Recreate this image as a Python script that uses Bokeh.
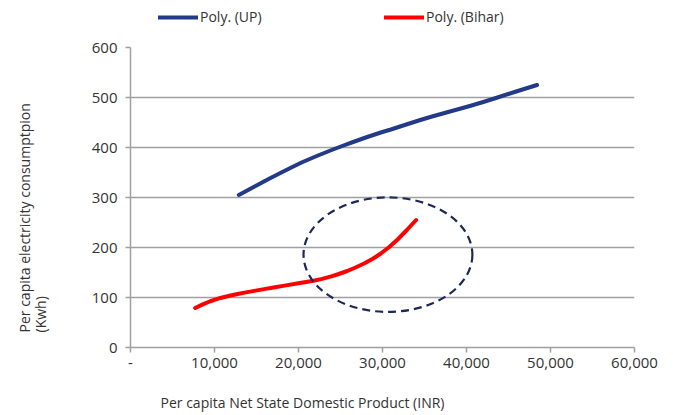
from math import pi

from bokeh.embed import file_html
from bokeh.layouts import column, row
from bokeh.models import FixedTicker, Label, Legend, LegendItem, Range1d
from bokeh.plotting import figure
from bokeh.resources import INLINE

# Polynomial trend of per-capita electricity use vs per-capita NSDP
up_nsdp = [12900, 14000, 15000, 16500, 17900, 19200, 20500, 22100, 23800,
           25200, 26500, 28100, 29800, 31000, 32000, 33200, 34500, 36000,
           37500, 39000, 40500, 42000, 43600, 46000, 48400]
up_kwh = [305, 315, 324, 337.5, 349.5, 360.5, 371, 382.5, 394,
          403, 411, 420.5, 430, 436, 441.5, 448, 455, 462.5,
          469.5, 476.5, 483.5, 491, 499.5, 512.5, 525]

bihar_nsdp = [7700, 8600, 9500, 10700, 11900, 12900, 13900, 14900, 15900,
              17200, 18500, 20000, 21800, 22800, 23800, 24800, 25800, 26800,
              27800, 28800, 29800, 30800, 31800, 32900, 34000]
bihar_kwh = [79, 86.2, 92.5, 99.1, 104.1, 107.6, 110.7, 113.7, 116.7,
             120.6, 124.3, 128.6, 133.5, 137.3, 141.7, 147, 153, 160,
             168, 177, 188, 201, 216, 235, 255]

# Highlighted zone around Bihar's recent acceleration
zone_x, zone_y = 30650, 185.7
zone_w, zone_h = 20100, 229

x_ticks = [0, 10000, 20000, 30000, 40000, 50000, 60000]
x_tick_labels = ["-", "10,000", "20,000", "30,000", "40,000", "50,000", "60,000"]
y_ticks = [0, 100, 200, 300, 400, 500, 600]

series_names = ["Poly. (UP)", "Poly. (Bihar)"]
series_colors = ["#233A88", "#FF0000"]

x_title = "Per capita Net State Domestic Product (INR)"
y_title = ["Per capita electricity consumptpion", "(Kwh)"]

FONT = "Open Sans"
TEXT = "#333333"
GRID = "#A0A0A0"


def blank(width, height, top=0, bottom=0):
    """A bare canvas (no axes); 1 data unit = 1 px inside its frame."""
    f = figure(width=width, height=height, output_backend="svg",
               toolbar_location=None, x_axis_type=None, y_axis_type=None,
               x_range=Range1d(0, width), y_range=Range1d(0, height - top - bottom),
               min_border=0, min_border_top=top, min_border_bottom=bottom)
    f.outline_line_color = None
    return f


# ---- main chart -----------------------------------------------------------
p = figure(width=613, height=350, output_backend="svg", toolbar_location=None,
           x_range=Range1d(0, 60000), y_range=Range1d(0, 600),
           min_border_left=70, min_border_right=39,
           min_border_top=17, min_border_bottom=33)
p.outline_line_color = None

p.xgrid.visible = False
p.ygrid.grid_line_color = GRID
p.ygrid.grid_line_width = 1.5
p.ygrid.ticker = FixedTicker(ticks=y_ticks)

p.xaxis.ticker = FixedTicker(ticks=x_ticks)
p.xaxis.major_label_overrides = {t: s for t, s in zip(x_ticks, x_tick_labels)}
p.yaxis.ticker = FixedTicker(ticks=y_ticks)
for ax in (p.xaxis, p.yaxis):
    ax.axis_line_color = GRID
    ax.axis_line_width = 1.5
    ax.major_tick_line_color = GRID
    ax.major_tick_line_width = 1.5
    ax.major_tick_out = 5
    ax.major_tick_in = 0
    ax.minor_tick_line_color = None
    ax.major_label_text_font = FONT
    ax.major_label_text_font_size = "15px"
    ax.major_label_text_color = TEXT
p.xaxis.major_label_standoff = 5
p.yaxis.major_label_standoff = 8

p.line(up_nsdp, up_kwh, line_color=series_colors[0], line_width=4,
       line_cap="round", line_join="round")
p.line(bihar_nsdp, bihar_kwh, line_color=series_colors[1], line_width=4,
       line_cap="round", line_join="round")

p.ellipse(x=[zone_x], y=[zone_y], width=[zone_w], height=[zone_h],
          fill_alpha=0, line_color="#1C2858", line_width=2.2, line_dash="8 5")

# ---- key strip across the top --------------------------------------------
# Series are re-plotted off-canvas here only so the key can borrow their style.
key = blank(673, 30)
for name, color, xs, ys, x0 in zip(series_names, series_colors,
                                   [up_nsdp, bihar_nsdp], [up_kwh, bihar_kwh],
                                   [158, 384]):
    r = key.line(xs, ys, line_color=color, line_width=4, line_cap="round")
    key.add_layout(Legend(items=[LegendItem(label=name, renderers=[r])],
                          location=(x0, 4), orientation="horizontal",
                          glyph_width=40, glyph_height=18, label_standoff=2,
                          padding=0, margin=0, border_line_color=None,
                          background_fill_alpha=0,
                          label_text_font=FONT, label_text_font_size="14px",
                          label_text_color=TEXT))

# ---- vertical axis title (frame lines up with the chart's frame) ---------
ylab = blank(60, 350, top=17, bottom=33)
for line_text, x0 in zip(y_title, [24, 40]):
    ylab.add_layout(Label(x=x0, y=15, angle=pi / 2, text=line_text,
                          text_font=FONT, text_font_size="14px",
                          text_color=TEXT, text_align="left",
                          text_baseline="middle"))

# ---- horizontal axis title strip -----------------------------------------
xlab = blank(673, 35)
xlab.add_layout(Label(x=160, y=13, text=x_title,
                      text_font=FONT, text_font_size="14px", text_color=TEXT,
                      text_align="left", text_baseline="middle"))

layout = column(key, row(ylab, p), xlab)
open("out.html", "w").write(file_html(layout, INLINE))
